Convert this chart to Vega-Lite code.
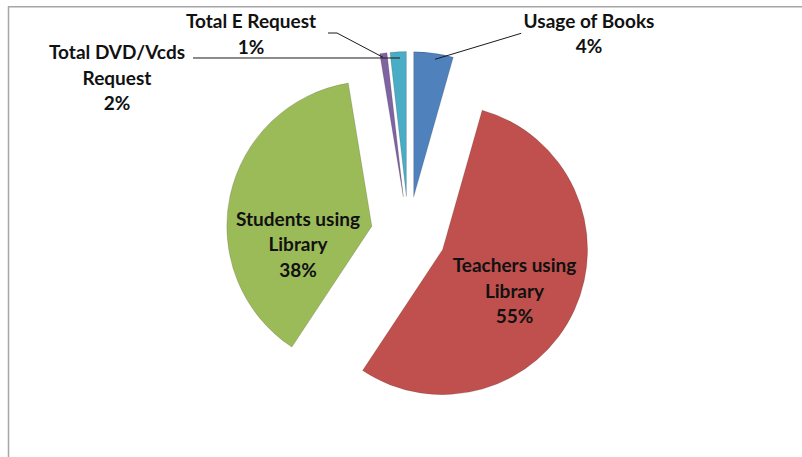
{
  "$schema": "https://vega.github.io/schema/vega-lite/v6.json",
  "width": 802,
  "height": 457,
  "autosize": {"type": "none"},
  "padding": 0,
  "background": "white",
  "config": {
    "view": {"stroke": null},
    "axis": {"disable": true},
    "text": {"font": "Lato", "fontSize": 19, "fontWeight": "bold", "lineHeight": 25.5, "lineBreak": "\n", "align": "center", "baseline": "alphabetic", "color": "#111111"}
  },
  "data": {
    "values": [
      {"category": "Usage of Books", "value": 4.4},
      {"category": "Teachers using Library", "value": 54.9},
      {"category": "Students using Library", "value": 38.1},
      {"category": "Total E Request", "value": 0.8},
      {"category": "Total DVD/Vcds Request", "value": 1.8}
    ]
  },
  "transform": [
    {"joinaggregate": [{"op": "sum", "field": "value", "as": "total"}]},
    {"window": [{"op": "sum", "field": "value", "as": "cum"}], "frame": [null, 0]},
    {"calculate": "(datum.cum - datum.value) / datum.total", "as": "start"},
    {"calculate": "datum.cum / datum.total", "as": "end"},
    {"calculate": "(datum.start + datum.end) * PI", "as": "mid"},
    {"calculate": "0.2586 * sin(datum.mid)", "as": "ex"},
    {"calculate": "-0.2586 * cos(datum.mid)", "as": "ey"},
    {"calculate": "replace(replace(datum.category, 'using ', 'using\\n'), 'Vcds ', 'Vcds\\n') + '\\n' + format(datum.value / datum.total, '.0%')", "as": "label"}
  ],
  "layer": [
    {
      "mark": {"type": "arc", "outerRadius": 145, "innerRadius": 0, "stroke": "#000000", "strokeOpacity": 0.18, "strokeWidth": 0.8},
      "encoding": {
        "x": {"field": "ex", "type": "quantitative", "scale": {"domain": [-1, 1], "range": [263.5, 553.5]}, "axis": null},
        "y": {"field": "ey", "type": "quantitative", "scale": {"domain": [-1, 1], "range": [89, 379]}, "axis": null},
        "theta": {"field": "start", "type": "quantitative", "stack": null, "scale": {"domain": [0, 1], "range": [0, 6.283185307179586]}},
        "theta2": {"field": "end"},
        "color": {
          "field": "category",
          "type": "nominal",
          "scale": {
            "domain": ["Usage of Books", "Teachers using Library", "Students using Library", "Total E Request", "Total DVD/Vcds Request"],
            "range": ["#4F81BD", "#C0504D", "#9BBB59", "#8064A2", "#4BACC6"]
          },
          "legend": null
        }
      }
    },
    {
      "transform": [{"filter": "datum.category == 'Usage of Books'"}],
      "mark": {"type": "rule", "color": "#a6a6a6", "strokeWidth": 1.5},
      "encoding": {
        "x": {"datum": -2.7586},
        "y": {"datum": -1.5724},
        "y2": {"datum": 1.7}
      }
    },
    {
      "transform": [{"filter": "datum.category == 'Usage of Books'"}],
      "mark": {"type": "rule", "color": "#a6a6a6", "strokeWidth": 1.5},
      "encoding": {
        "x": {"datum": -2.7586},
        "x2": {"datum": 2.8},
        "y": {"datum": -1.5669}
      }
    },
    {
      "transform": [{"filter": "datum.category == 'Usage of Books'"}],
      "mark": {"type": "rule", "color": "#1a1a1a", "strokeWidth": 1},
      "encoding": {
        "x": {"datum": 0.7772},
        "y": {"datum": -1.3841},
        "x2": {"datum": 0.1828},
        "y2": {"datum": -1.2048}
      }
    },
    {
      "transform": [{"filter": "datum.category == 'Total E Request'"}],
      "mark": {"type": "rule", "color": "#1a1a1a", "strokeWidth": 1},
      "encoding": {
        "x": {"datum": -0.5552},
        "y": {"datum": -1.3862},
        "x2": {"datum": -0.4931},
        "y2": {"datum": -1.3862}
      }
    },
    {
      "transform": [{"filter": "datum.category == 'Total E Request'"}],
      "mark": {"type": "rule", "color": "#1a1a1a", "strokeWidth": 1},
      "encoding": {
        "x": {"datum": -0.4931},
        "y": {"datum": -1.3862},
        "x2": {"datum": -0.1759},
        "y2": {"datum": -1.2186}
      }
    },
    {
      "transform": [{"filter": "datum.category == 'Total DVD/Vcds Request'"}],
      "mark": {"type": "rule", "color": "#1a1a1a", "strokeWidth": 1},
      "encoding": {
        "x": {"datum": -1.4862},
        "y": {"datum": -1.2138},
        "x2": {"datum": -0.0586},
        "y2": {"datum": -1.2138}
      }
    },
    {
      "transform": [{"filter": "datum.category == 'Usage of Books'"}],
      "mark": {"type": "text"},
      "encoding": {"x": {"datum": 1.2448}, "y": {"datum": -1.4207}, "text": {"field": "label"}}
    },
    {
      "transform": [{"filter": "datum.category == 'Total E Request'"}],
      "mark": {"type": "text"},
      "encoding": {"x": {"datum": -1.0862}, "y": {"datum": -1.4186}, "text": {"field": "label"}}
    },
    {
      "transform": [{"filter": "datum.category == 'Total DVD/Vcds Request'"}],
      "mark": {"type": "text"},
      "encoding": {"x": {"datum": -2.0103}, "y": {"datum": -1.2048}, "text": {"field": "label"}}
    },
    {
      "transform": [{"filter": "datum.category == 'Students using Library'"}],
      "mark": {"type": "text"},
      "encoding": {"x": {"datum": -0.762}, "y": {"datum": -0.0572}, "text": {"field": "label"}}
    },
    {
      "transform": [{"filter": "datum.category == 'Teachers using Library'"}],
      "mark": {"type": "text"},
      "encoding": {"x": {"datum": 0.731}, "y": {"datum": 0.2655}, "text": {"field": "label"}}
    }
  ]
}
